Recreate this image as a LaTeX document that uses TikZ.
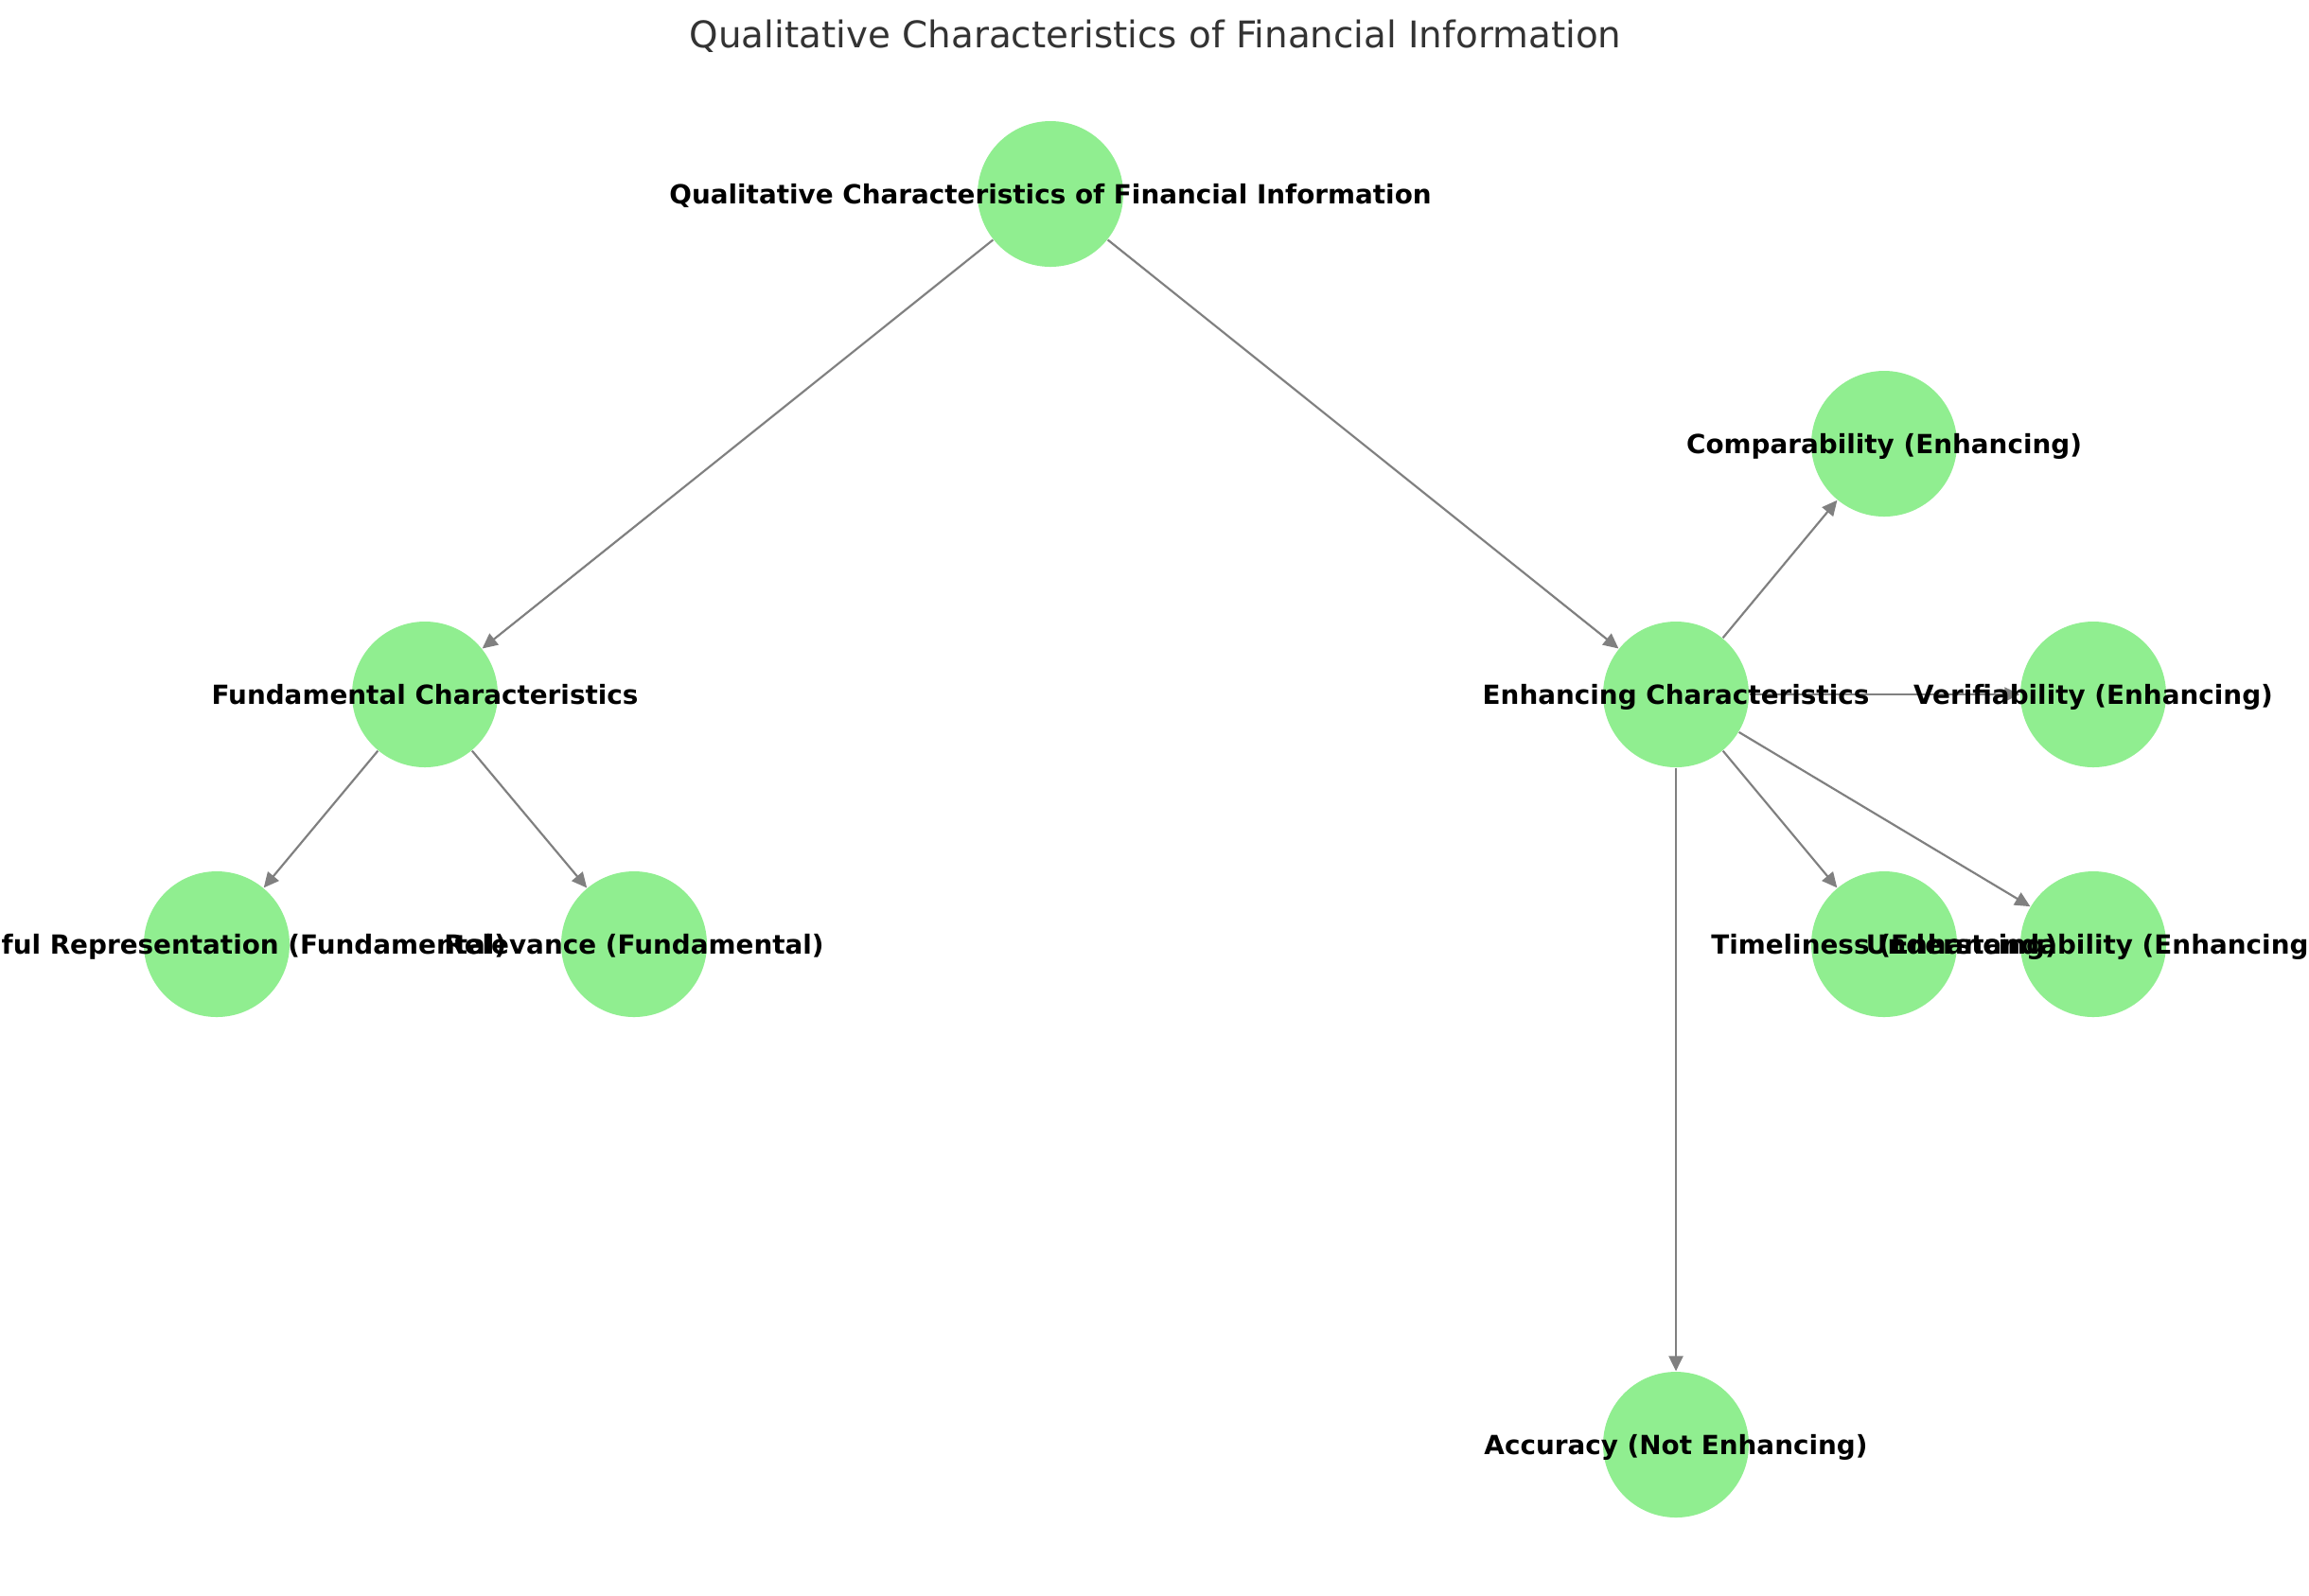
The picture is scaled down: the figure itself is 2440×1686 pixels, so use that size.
\documentclass[tikz,border=0pt]{standalone}
\usepackage{fontspec}
\setmainfont{DejaVu Sans}
\usetikzlibrary{arrows.meta}
\definecolor{nodegreen}{HTML}{90EE90}
\definecolor{edgegray}{HTML}{808080}
\definecolor{titlegray}{HTML}{333333}
\tikzset{
  vertex/.style={circle, fill=nodegreen, draw=none, minimum size=46.2pt, inner sep=0pt},
  vlabel/.style={anchor=base, inner sep=0pt, font=\fontsize{8.35pt}{9pt}\selectfont\bfseries, text=black},
  edge/.style={draw=edgegray, line width=0.65pt, -{Triangle[length=4.8pt, width=4.5pt]}},
}
\begin{document}
\begin{tikzpicture}[x=0.3pt, y=-0.3pt]
\useasboundingbox (0,0) rectangle (2440,1686);
\fill[white] (0,0) rectangle (2440,1686);
% title
\node[anchor=base, inner sep=0pt, text=titlegray, font=\fontsize{11.65pt}{14pt}\selectfont] (title) at (1221,50) {Qualitative Characteristics of Financial Information};
% nodes
\node[vertex] (root) at (1110,205) {};
\node[vertex] (fund) at (449,734) {};
\node[vertex] (enh) at (1771,734) {};
\node[vertex] (comp) at (1991,469) {};
\node[vertex] (ver) at (2212,734) {};
\node[vertex] (faith) at (229,998) {};
\node[vertex] (rel) at (670,998) {};
\node[vertex] (time) at (1991,998) {};
\node[vertex] (und) at (2212,998) {};
\node[vertex] (acc) at (1771,1527) {};
% edges
\draw[edge] (root) -- (fund);
\draw[edge] (root) -- (enh);
\draw[edge] (fund) -- (faith);
\draw[edge] (fund) -- (rel);
\draw[edge] (enh) -- (comp);
\draw[edge] (enh) -- (ver);
\draw[edge] (enh) -- (time);
\draw[edge] (enh) -- (und);
\draw[edge] (enh) -- (acc);
% labels
\node[vlabel] (lroot) at (1110,215) {Qualitative Characteristics of Financial Information};
\node[vlabel] (lfund) at (449,744) {Fundamental Characteristics};
\node[vlabel] (lenh) at (1771,744) {Enhancing Characteristics};
\node[vlabel] (lcomp) at (1991,479) {Comparability (Enhancing)};
\node[vlabel] (lver) at (2212,744) {Verifiability (Enhancing)};
\node[vlabel] (lfaith) at (229,1008) {Faithful Representation (Fundamental)};
\node[vlabel] (lrel) at (670,1008) {Relevance (Fundamental)};
\node[vlabel] (ltime) at (1991,1008) {Timeliness (Enhancing)};
\node[vlabel] (lund) at (2212,1008) {Understandability (Enhancing)};
\node[vlabel] (lacc) at (1771,1537) {Accuracy (Not Enhancing)};
\end{tikzpicture}
\end{document}
